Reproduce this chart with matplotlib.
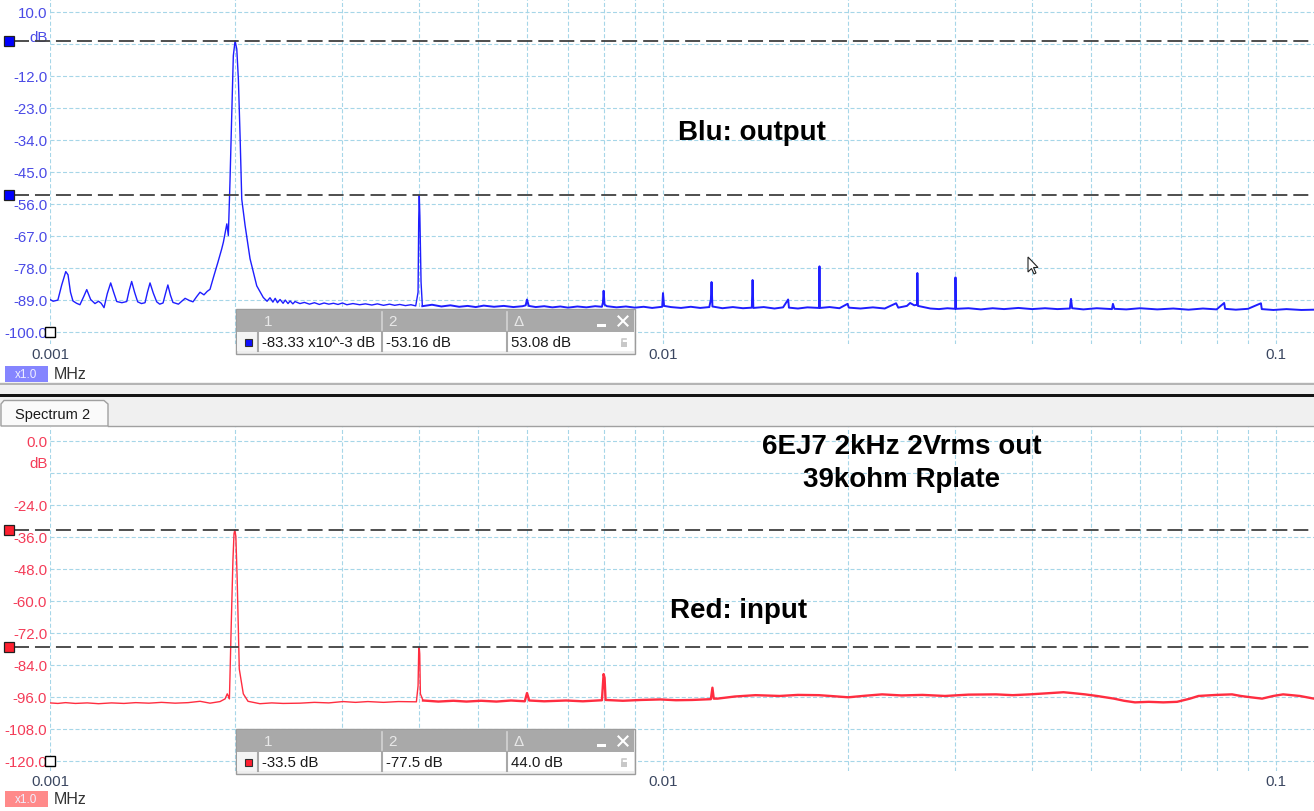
import numpy as np
import matplotlib
matplotlib.use("Agg")
import matplotlib.pyplot as plt
from matplotlib.patches import Rectangle, Polygon
from matplotlib.ticker import LogLocator, NullFormatter
from matplotlib.transforms import blended_transform_factory

plt.rcParams['font.family'] = ['Liberation Sans', 'DejaVu Sans']
plt.rcParams['lines.scale_dashes'] = False

# ---------------- data (frequency in kHz, level in dB) ----------------
blue_low = [(1.000, -89.0), (1.012, -89.6), (1.030, -89.2), (1.045, -84.0), (1.061, -79.4), (1.070, -80.5),
            (1.080, -86.5), (1.090, -89.5), (1.105, -90.3), (1.119, -90.8), (1.135, -88.0), (1.148, -85.6),
            (1.165, -89.0), (1.184, -90.4), (1.200, -89.6), (1.212, -90.3), (1.225, -91.8), (1.240, -87.0),
            (1.256, -83.3), (1.270, -86.5), (1.285, -89.7), (1.310, -90.1), (1.334, -89.7), (1.346, -86.0),
            (1.359, -82.8), (1.374, -86.5), (1.390, -89.8), (1.410, -90.4), (1.429, -90.1), (1.442, -86.5),
            (1.456, -83.3), (1.474, -86.8), (1.493, -89.8), (1.510, -90.6), (1.529, -90.2), (1.543, -87.0),
            (1.557, -84.0), (1.572, -87.5), (1.587, -90.0), (1.620, -90.6), (1.661, -88.6), (1.690, -89.4),
            (1.711, -89.8), (1.735, -88.0), (1.757, -86.5), (1.783, -87.4), (1.805, -86.2), (1.824, -85.5),
            (1.850, -81.0), (1.879, -76.2), (1.906, -71.6), (1.918, -69.3), (1.935, -65.0), (1.943, -63.0),
            (1.954, -67.0), (1.966, -48.7), (1.979, -25.8), (1.991, -5.2), (2.004, -0.1), (2.017, -2.9),
            (2.029, -13.2), (2.042, -32.7), (2.055, -54.5), (2.081, -63.6), (2.120, -75.0), (2.174, -84.3),
            (2.228, -88.3), (2.260, -89.6), (2.285, -88.4), (2.310, -89.9), (2.330, -88.6), (2.350, -90.1),
            (2.373, -89.0), (2.400, -90.3), (2.420, -89.2), (2.445, -90.4), (2.464, -89.5), (2.490, -90.5),
            (2.510, -89.7), (2.557, -90.4), (2.600, -90.0), (2.650, -90.6), (2.700, -90.1), (2.750, -90.7),
            (2.800, -90.2), (2.850, -90.6), (2.900, -90.3), (2.950, -90.7), (3.000, -90.2), (3.050, -90.8),
            (3.120, -90.4), (3.200, -90.8), (3.270, -90.5), (3.350, -90.9), (3.420, -90.5), (3.500, -91.0),
            (3.580, -90.6), (3.650, -91.0), (3.720, -90.7), (3.800, -91.1), (3.880, -90.8), (3.950, -91.2),
            (3.985, -86.5), (3.995, -61.3), (4.003, -53.2), (4.012, -60.2), (4.030, -83.0), (4.050, -91.3)]

blue_high = [(4.20, -90.8), (4.35, -91.4), (4.50, -91.0), (4.65, -91.5), (4.80, -91.2), (4.95, -91.6),
             (5.10, -91.1), (5.30, -91.5), (5.50, -91.2), (5.70, -91.6), (5.90, -91.3), (5.97, -91.0),
             (6.00, -89.0), (6.04, -91.2), (6.20, -91.6), (6.40, -91.3), (6.60, -91.7), (6.80, -91.4),
             (7.00, -91.8), (7.25, -91.4), (7.50, -91.7), (7.75, -91.3), (7.95, -91.5), (7.98, -90.0),
             (8.00, -86.0), (8.03, -90.8), (8.10, -91.3), (8.40, -91.7), (8.70, -91.4), (9.00, -91.8),
             (9.30, -91.5), (9.60, -91.9), (9.97, -91.5), (10.00, -86.8), (10.04, -91.2), (10.30, -91.6),
             (10.70, -91.9), (11.10, -91.5), (11.50, -91.9), (11.90, -91.6), (11.97, -89.0), (12.00, -83.0),
             (12.04, -91.4), (12.50, -92.0), (13.00, -91.6), (13.50, -92.0), (13.96, -91.8), (14.00, -82.3),
             (14.04, -91.9), (14.60, -91.6), (15.20, -92.1), (15.70, -91.7), (16.00, -89.0), (16.05, -91.8),
             (16.60, -92.1), (17.20, -91.7), (17.97, -91.9), (18.00, -77.6), (18.03, -91.9), (18.70, -91.6),
             (19.40, -92.0), (20.00, -90.5), (20.10, -91.8), (21.00, -92.1), (22.00, -91.7), (23.00, -92.1),
             (24.00, -90.3), (24.20, -91.8), (25.00, -91.2), (25.30, -90.2), (25.70, -91.0), (25.97, -90.8),
             (26.00, -79.9), (26.05, -91.2), (26.60, -91.6), (27.30, -92.1), (28.20, -92.3), (29.10, -92.0),
             (29.97, -92.2), (30.00, -81.4), (30.05, -92.2), (31.50, -92.0), (33.00, -92.4), (34.50, -92.0),
             (36.00, -92.3), (38.00, -91.9), (40.00, -92.3), (42.00, -92.0), (44.00, -92.3), (46.10, -92.1),
             (46.30, -88.8), (46.50, -92.0), (48.50, -92.4), (51.00, -92.0), (54.00, -92.3), (54.20, -90.5),
             (54.50, -92.2), (57.00, -92.4), (60.00, -92.0), (64.00, -92.4), (68.00, -92.1), (72.00, -92.5),
             (76.00, -92.1), (80.00, -92.4), (82.30, -90.2), (82.60, -92.2), (86.00, -92.5), (90.00, -92.2),
             (94.50, -90.3), (94.80, -92.3), (99.00, -92.6), (104.0, -92.3), (110.0, -92.6), (115.3, -92.5)]

red_low = [(1.000, -98.4), (1.030, -98.6), (1.060, -98.3), (1.100, -98.6), (1.150, -98.4), (1.200, -98.7),
           (1.260, -98.4), (1.320, -98.6), (1.380, -98.3), (1.450, -98.5), (1.520, -98.2), (1.600, -98.5),
           (1.680, -98.3), (1.757, -97.8), (1.824, -98.5), (1.894, -97.9), (1.930, -96.9), (1.946, -95.0),
           (1.957, -96.2), (1.962, -96.9), (1.975, -70.0), (1.988, -45.0), (1.996, -35.0), (2.002, -33.5),
           (2.010, -36.0), (2.020, -52.0), (2.036, -85.7), (2.067, -95.0), (2.104, -97.8), (2.200, -98.7),
           (2.300, -98.4), (2.400, -98.6), (2.557, -98.5), (2.700, -98.2), (2.850, -98.4), (3.006, -97.9),
           (3.150, -98.2), (3.300, -97.9), (3.500, -98.2), (3.700, -97.9), (3.960, -98.0), (3.985, -92.0),
           (3.995, -78.5), (4.002, -77.5), (4.010, -80.0), (4.020, -95.0), (4.060, -97.5)]

red_high = [(4.30, -97.9), (4.55, -97.6), (4.78, -97.9), (5.05, -97.6), (5.35, -97.9), (5.65, -97.5),
            (5.95, -97.8), (6.00, -94.7), (6.05, -97.5), (6.40, -97.8), (6.95, -97.5), (7.40, -97.8),
            (7.95, -97.4), (8.00, -87.6), (8.03, -89.0), (8.06, -97.3), (8.60, -97.6), (9.20, -97.3),
            (9.90, -97.1), (10.50, -97.4), (11.15, -97.3), (11.97, -97.0), (12.04, -92.7), (12.10, -96.8),
            (12.27, -96.8), (13.10, -96.0), (14.16, -95.5), (15.50, -95.8), (16.60, -95.4), (17.96, -95.5),
            (19.00, -95.9), (20.06, -96.3), (21.40, -95.7), (22.77, -95.2), (24.50, -95.6), (26.50, -95.4),
            (28.84, -95.8), (31.50, -95.3), (34.93, -95.2), (37.20, -95.5), (39.65, -95.2), (42.30, -94.8),
            (45.01, -94.4), (46.47, -94.7), (48.80, -95.2), (51.05, -95.8), (54.41, -96.8), (56.50, -97.6),
            (58.88, -98.2), (62.00, -98.0), (65.50, -98.2), (68.95, -98.0), (72.39, -96.8), (74.74, -95.8),
            (80.00, -95.4), (84.79, -95.2), (87.60, -95.8), (91.00, -96.3), (94.90, -96.8), (99.00, -95.8),
            (102.7, -95.2), (106.0, -95.5), (109.4, -95.8), (115.3, -96.8)]

top_yticks = [10.0, -1.0, -12.0, -23.0, -34.0, -45.0, -56.0, -67.0, -78.0, -89.0, -100.0]
bot_yticks = [0.0, -12.0, -24.0, -36.0, -48.0, -60.0, -72.0, -84.0, -96.0, -108.0, -120.0]
x_ticks_mhz = [0.001, 0.01, 0.1]
x_tick_labels = ["0.001", "0.01", "0.1"]

top_cursors = [-0.08333, -53.16]
bot_cursors = [-33.5, -77.5]
top_readout = ["-83.33 x10^-3 dB", "-53.16 dB", "53.08 dB"]
bot_readout = ["-33.5 dB", "-77.5 dB", "44.0 dB"]

# ---------------- styling ----------------
W, H = 1314, 812
BLUE = '#1e1eff'
RED = '#ff2d40'
TOP_TICK = '#4a4ae6'
BOT_TICK = '#f43c58'
XTICK = '#3a4660'
GRID = '#a6d6e8'

fig = plt.figure(figsize=(W / 100, H / 100), dpi=100)
fig.patch.set_facecolor('white')


def px_axes(x0, y0, x1, y1, z):
    return fig.add_axes([x0 / W, 1 - y1 / H, (x1 - x0) / W, (y1 - y0) / H], zorder=z)


bg = px_axes(0, 0, W, H, 0)
bg.set_xlim(0, W); bg.set_ylim(H, 0); bg.axis('off')
fg = px_axes(0, 0, W, H, 10)
fg.set_xlim(0, W); fg.set_ylim(H, 0); fg.axis('off')

# separator between panels
bg.add_patch(Rectangle((0, 383), W, 44, fc='#f0f0f0', ec='none'))
bg.plot([0, W], [385, 385], color='#a8a8a8', lw=1.2)
bg.add_patch(Rectangle((0, 394.5), W, 3, fc='#141414', ec='none'))
bg.add_patch(Polygon([(1, 427), (1, 405), (4, 401.5), (104, 401.5), (108, 405), (108, 427)],
                     closed=True, fc='#fafafa', ec='#a0a0a0', lw=1))
bg.plot([108, W], [426.5, 426.5], color='#a0a0a0', lw=1)
bg.text(15, 415, "Spectrum 2", fontsize=10.5, color='#1a1a1a', va='center', ha='left')

x_lo = 1e-3
x_hi = 1e-3 * 10 ** (1264 / 613)


def setup(ax, yticks, ylim, tickcol):
    ax.set_facecolor('none')
    ax.set_xscale('log')
    ax.set_xlim(x_lo, x_hi)
    ax.set_ylim(*ylim)
    for s in ax.spines.values():
        s.set_visible(False)
    ax.xaxis.set_major_locator(LogLocator(base=10))
    ax.xaxis.set_minor_locator(LogLocator(base=10, subs=np.arange(2, 10)))
    ax.xaxis.set_minor_formatter(NullFormatter())
    ax.set_xticks(x_ticks_mhz)
    ax.set_xticklabels(x_tick_labels)
    ax.set_yticks(yticks)
    ax.set_yticklabels(["" if i == 1 else f"{v:.1f}" for i, v in enumerate(yticks)])
    ax.tick_params(axis='both', which='both', length=0)
    ax.tick_params(axis='y', labelsize=10.8, labelcolor=tickcol, pad=2)
    ax.tick_params(axis='x', labelsize=10.8, labelcolor=XTICK, pad=2)
    ax.grid(True, which='both', axis='x', color=GRID, lw=0.8, linestyle=(0, (2.9, 1.6)))
    ax.grid(True, which='major', axis='y', color=GRID, lw=0.8, linestyle=(0, (2.9, 1.6)))
    ax.set_axisbelow(True)


# top panel: y_px = 12.5 + (10 - dB) * 32/11
ax1 = px_axes(50, 0, W, 345, 2)
setup(ax1, top_yticks, (10 - 332.5 * 11 / 32, 10 + 12.5 * 11 / 32), TOP_TICK)
# bottom panel: y_px = 441.5 - dB * 32/12
ax2 = px_axes(50, 428, W, 772, 2)
setup(ax2, bot_yticks, (-(772 - 441.5) * 12 / 32, (441.5 - 428) * 12 / 32), BOT_TICK)

blf, bld = zip(*blue_low)
bhf, bhd = zip(*([blue_low[-1]] + blue_high))
rlf, rld = zip(*red_low)
rhf, rhd = zip(*([red_low[-1]] + red_high))
ax1.plot(np.array(blf) / 1000.0, bld, color=BLUE, lw=1.0, zorder=3)
ax1.plot(np.array(bhf) / 1000.0, bhd, color=BLUE, lw=1.4, zorder=3)
ax2.plot(np.array(rlf) / 1000.0, rld, color=RED, lw=1.0, zorder=3)
ax2.plot(np.array(rhf) / 1000.0, rhd, color=RED, lw=1.7, zorder=3)

# dB unit labels
tr1 = blended_transform_factory(fg.transData, ax1.transData)
tr2 = blended_transform_factory(fg.transData, ax2.transData)
fg.text(48, 1.2, "dB", transform=tr1, ha='right', va='center', fontsize=10.8, color=TOP_TICK)
fg.text(48, -8.3, "dB", transform=tr2, ha='right', va='center', fontsize=10.8, color=BOT_TICK)

# cursors
for tr, vals, col in ((tr1, top_cursors, '#0000ff'), (tr2, bot_cursors, '#ff2030')):
    for v in vals:
        fg.plot([14, W], [v, v], transform=tr, color='#404040', lw=1.3,
                linestyle=(0, (10.8, 4.3)), zorder=4)
        fg.plot([8.5], [v], transform=tr, marker='s', ms=7.5, mfc=col, mec='#202020', mew=0.9,
                zorder=5, clip_on=False)

ax1.plot([x_lo], [top_yticks[-1]], marker='s', ms=7, mfc='white', mec='black', mew=1, clip_on=False, zorder=6)
ax2.plot([x_lo], [bot_yticks[-1]], marker='s', ms=7, mfc='white', mec='black', mew=1, clip_on=False, zorder=6)


# readout boxes
def readout(y0, col, texts):
    fg.add_patch(Rectangle((236, y0), 399, 45, fc='#eeeeee', ec='#9c9c9c', lw=1, zorder=5))
    fg.add_patch(Rectangle((237, y0 + 1), 397, 22, fc='#a9a9a9', ec='none', zorder=6))
    fg.add_patch(Rectangle((237, y0 + 23), 397, 19, fc='white', ec='none', zorder=6))
    fg.add_patch(Rectangle((237, y0 + 23), 21, 19, fc='#f4f4f4', ec='none', zorder=6))
    for xd in (258, 382, 507):
        fg.plot([xd, xd], [y0 + 23, y0 + 42], color='#a8a8a8', lw=1.5, zorder=7)
    for xd in (382, 507):
        fg.plot([xd, xd], [y0 + 3, y0 + 21], color='#d4d4d4', lw=1.2, zorder=7)
    for xh, lab in zip((264, 388, 513), ("1", "2", "Δ")):
        fg.text(xh, y0 + 12.5, lab, fontsize=11, color='#e8e8e8', va='center', ha='left', zorder=8)
    fg.add_patch(Rectangle((597, y0 + 15), 9, 3, fc='white', ec='none', zorder=8))
    fg.plot([618.5, 627.5], [y0 + 7.5, y0 + 16.5], color='white', lw=1.5, zorder=8)
    fg.plot([618.5, 627.5], [y0 + 16.5, y0 + 7.5], color='white', lw=1.5, zorder=8)
    fg.add_patch(Rectangle((244.5, y0 + 29.5), 7.5, 7.5, fc=col, ec='#303030', lw=0.8, zorder=8))
    for xt, t in zip((262, 386, 511), texts):
        fg.text(xt, y0 + 33, t, fontsize=10.8, color='#1a1a1a', va='center', ha='left', zorder=8)
    fg.add_patch(Rectangle((620.5, y0 + 33), 6.5, 5, fc='#c8c8c8', ec='none', zorder=8))
    fg.plot([621.5, 621.5, 625.5], [y0 + 33, y0 + 29.5, y0 + 29.5], color='#c8c8c8', lw=1.2, zorder=8)


readout(310, '#1010ff', top_readout)
readout(730, '#ff2030', bot_readout)

# unit badges
for yb, col in ((367, '#8585ff'), (792, '#ff8a8a')):
    fg.add_patch(Rectangle((5, yb), 43, 16, fc=col, ec='none'))
    fg.text(26.5, yb + 8, "x1.0", fontsize=8.5, color='#f0f0ff', ha='center', va='center')
    fg.text(54, yb + 8, "MHz", fontsize=11.5, color='#333333', ha='left', va='center')

# annotations
big = dict(fontsize=20, fontweight='bold', color='black', ha='center', va='baseline')
fg.text(751.5, 139.5, "Blu: output", **big)
fg.text(901.5, 454, "6EJ7 2kHz 2Vrms out", **big)
fg.text(901.5, 487, "39kohm Rplate", **big)
fg.text(738.5, 618, "Red: input", **big)

# mouse pointer
tip = np.array([1028.0, 258.0])
ptr = np.array([(0, 0), (0, 15), (3.5, 11.5), (6, 17), (8, 16), (5.5, 10.5), (10, 10.5)]) + tip
fg.add_patch(Polygon(ptr, closed=True, fc='white', ec='#222222', lw=0.8, zorder=9))

fig.savefig("out.png", dpi=100, facecolor=fig.get_facecolor())
